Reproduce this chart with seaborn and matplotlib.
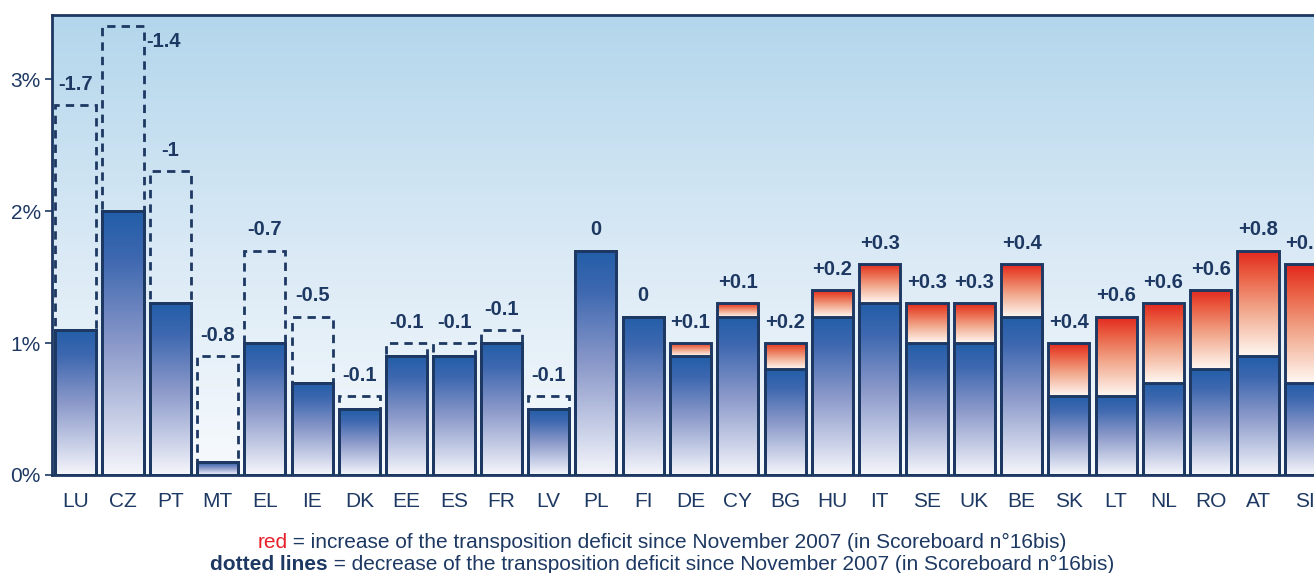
import numpy as np
import pandas as pd
import matplotlib
matplotlib.use("Agg")
import matplotlib.pyplot as plt
import seaborn as sns
from matplotlib.colors import LinearSegmentedColormap

# ---- data ----
countries = ["LU", "CZ", "PT", "MT", "EL", "IE", "DK", "EE", "ES", "FR", "LV", "PL", "FI",
             "DE", "CY", "BG", "HU", "IT", "SE", "UK", "BE", "SK", "LT", "NL", "RO", "AT", "SI"]
current = [1.1, 2.0, 1.3, 0.1, 1.0, 0.7, 0.5, 0.9, 0.9, 1.0, 0.5, 1.7, 1.2,
           1.0, 1.3, 1.0, 1.4, 1.6, 1.3, 1.3, 1.6, 1.0, 1.2, 1.3, 1.4, 1.7, 1.6]
previous = [2.8, 3.4, 2.3, 0.9, 1.7, 1.2, 0.6, 1.0, 1.0, 1.1, 0.6, 1.7, 1.2,
            0.9, 1.2, 0.8, 1.2, 1.3, 1.0, 1.0, 1.2, 0.6, 0.6, 0.7, 0.8, 0.9, 0.7]
change_labels = ["-1.7", "-1.4", "-1", "-0.8", "-0.7", "-0.5", "-0.1", "-0.1", "-0.1", "-0.1",
                 "-0.1", "0", "0", "+0.1", "+0.1", "+0.2", "+0.2", "+0.3", "+0.3", "+0.3",
                 "+0.4", "+0.4", "+0.6", "+0.6", "+0.6", "+0.8", "+0.9"]
yticks = [0, 1, 2, 3]
ytick_labels = ["0%", "1%", "2%", "3%"]

NAVY = "#1d3862"
W, H = 1314, 573

sns.set_style("white")
plt.rcParams["font.family"] = ["Liberation Sans", "DejaVu Sans"]

df = pd.DataFrame({"country": countries, "current": current, "previous": previous,
                   "label": change_labels})
df["blue"] = df[["current", "previous"]].min(axis=1)
df["top"] = df[["current", "previous"]].max(axis=1)
dec = df[df["previous"] > df["current"]]

fig = plt.figure(figsize=(W / 100, H / 100), dpi=100)
ax = fig.add_axes([52 / W, 1 - 475 / H, (1329 - 52) / W, (475 - 15) / H])

# background gradient
bg_cmap = LinearSegmentedColormap.from_list("bg", ["#f7fafd", "#d9e9f5", "#b3d6ec"])
grad = np.linspace(0, 1, 256).reshape(-1, 1)
ax.imshow(grad, extent=[0, 1, 0, 1], transform=ax.transAxes, origin="lower",
          cmap=bg_cmap, aspect="auto", zorder=0)

blue_cmap = LinearSegmentedColormap.from_list(
    "bl", [(0, "#f6f6fb"), (0.2, "#c9d0e7"), (0.5, "#8a98c9"), (0.82, "#3e68b0"), (1.0, "#225ea8")])
red_cmap = LinearSegmentedColormap.from_list(
    "rd", [(0, "#fff8f2"), (0.45, "#f1a488"), (0.8, "#e9573c"), (1.0, "#e2261f")])

BW = 0.87
LW = 2.1

# dashed boxes (previous level, for decreases)
n0 = len(ax.patches)
sns.barplot(data=dec, x="country", y="previous", order=countries, width=BW,
            ax=ax, fill=False, errorbar=None)
for p in ax.patches[n0:]:
    p.set_facecolor("none")
    p.set_edgecolor(NAVY)
    p.set_linewidth(2.0)
    p.set_linestyle((0, (3.0, 2.2)))
    p.set_zorder(2)

# total bars (red part on top)
n0 = len(ax.patches)
sns.barplot(data=df, x="country", y="current", order=countries, width=BW,
            ax=ax, color="white", errorbar=None)
total_patches = ax.patches[n0:]
# blue bars
n0 = len(ax.patches)
sns.barplot(data=df, x="country", y="blue", order=countries, width=BW,
            ax=ax, color="white", errorbar=None)
blue_patches = ax.patches[n0:]

for i, (pt, pb) in enumerate(zip(total_patches, blue_patches)):
    x0, w = pb.get_x(), pb.get_width()
    b = df["blue"].iloc[i]
    c = df["current"].iloc[i]
    if c > b:
        im = ax.imshow(grad, extent=[x0, x0 + w, b, c], origin="lower", cmap=red_cmap,
                       aspect="auto", zorder=3)
        im.set_clip_path(pt)
    im = ax.imshow(grad, extent=[x0, x0 + w, 0, b], origin="lower", cmap=blue_cmap,
                   aspect="auto", zorder=3)
    im.set_clip_path(pb)
    for p in (pt, pb):
        p.set_facecolor("none")
        p.set_edgecolor(NAVY)
        p.set_linewidth(LW)
        p.set_zorder(4)

# value labels
VFS = 14.5
for i, row in df.iterrows():
    if row["country"] == "CZ":
        ax.annotate(row["label"], xy=(i + BW / 2, row["top"]), xytext=(2, -4),
                    textcoords="offset points", ha="left", va="top",
                    fontsize=VFS, fontweight="bold", color=NAVY, zorder=5)
    else:
        ax.annotate(row["label"], xy=(i, row["top"]), xytext=(0, 8),
                    textcoords="offset points", ha="center", va="bottom",
                    fontsize=VFS, fontweight="bold", color=NAVY, zorder=5)

ax.set_xlim(-0.5, len(countries) - 0.5)
ax.set_ylim(0, 3.485)
ax.set_yticks(yticks)
ax.set_yticklabels(ytick_labels)
ax.set_xticks(range(len(countries)))
ax.set_xticklabels(countries)
ax.set_xticks(np.arange(-0.5, len(countries), 1.0), minor=True)
ax.set_xlabel("")
ax.set_ylabel("")
ax.tick_params(axis="x", which="major", length=0, pad=12, labelsize=15, labelcolor=NAVY)
ax.tick_params(axis="x", which="minor", length=5, width=1.2, color=NAVY, direction="out")
ax.tick_params(axis="y", length=5, width=1.2, color=NAVY, direction="out", pad=3,
               labelsize=15, labelcolor=NAVY, left=True)
for s in ax.spines.values():
    s.set_visible(True)
    s.set_color(NAVY)
    s.set_linewidth(2.0)
    s.set_zorder(6)

# caption
cap_fs = 15
def caption_line(parts, y):
    texts = [fig.text(0, y, s, color=col, fontweight=wt, fontsize=cap_fs, ha="left",
                      va="baseline") for s, col, wt in parts]
    fig.canvas.draw()
    r = fig.canvas.get_renderer()
    widths = [t.get_window_extent(r).width for t in texts]
    x = 662 - sum(widths) / 2
    for t, wdt in zip(texts, widths):
        t.set_x(x / W)
        x += wdt

caption_line([("red", "#e8202a", "normal"),
              (" = increase of the transposition deficit since November 2007 (in Scoreboard n°16bis)", NAVY, "normal")],
             1 - 548 / H)
caption_line([("dotted lines", NAVY, "bold"),
              (" = decrease of the transposition deficit since November 2007 (in Scoreboard n°16bis)", NAVY, "normal")],
             1 - 570 / H)

fig.savefig("out.png", dpi=100)
